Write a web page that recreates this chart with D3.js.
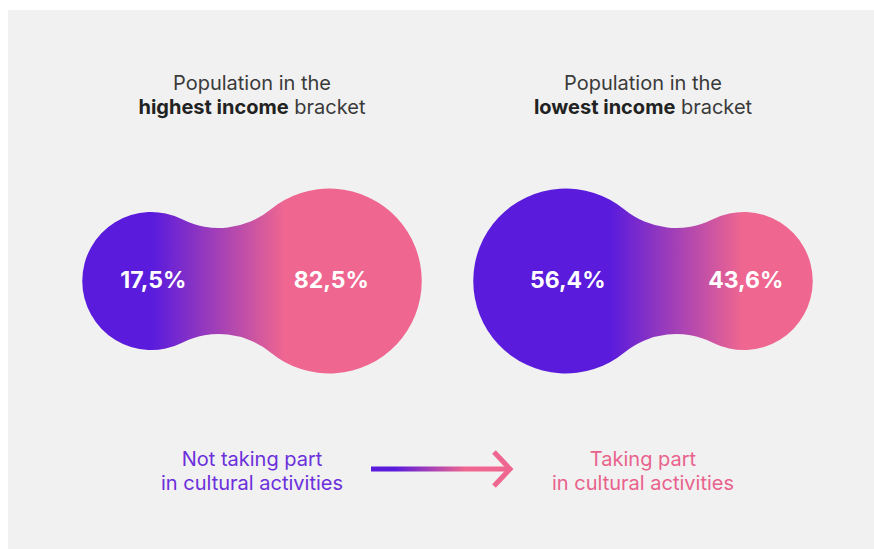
<!DOCTYPE html>
<html>
<head>
<meta charset="utf-8">
<script src="https://cdn.jsdelivr.net/npm/d3@7"></script>
<style>
  body { margin: 0; background: #fff; }
  svg { display: block; font-family: Inter, 'Open Sans', sans-serif; }
</style>
</head>
<body>
<svg width="874" height="549"></svg>
<script>
const svg = d3.select('svg');
const width = +svg.attr('width');
const height = +svg.attr('height');

// data
const brackets = ['highest income', 'lowest income'];
const notTaking = [17.5, 56.4];
const taking = [82.5, 43.6];
const legendLabels = ['Not taking part', 'Taking part'];

const purple = '#5a1bdc';
const pink = '#ef6690';

const data = brackets.map((b, i) => ({ bracket: b, a: notTaking[i], b: taking[i] }));

svg.append('rect')
  .attr('x', 8).attr('y', 10)
  .attr('width', width - 8).attr('height', height - 10)
  .attr('fill', '#f1f1f1');

const xScale = d3.scalePoint()
  .domain(brackets)
  .range([252, 643]);

// bigger share of the pair gets the bigger bubble
const rScale = d3.scaleThreshold()
  .domain([50])
  .range([69, 92.5]);

const cy = 281;
const gap = 178;   // distance between the two circle centres
const neck = 53;   // half height of the waist

const fmt = v => d3.format('.1f')(v).replace('.', ',') + '%';

// two circles joined by concave arcs
const blob = (mid, r1, r2) => {
  const w = r1 + gap + r2;
  const c1 = mid - w / 2 + r1;
  const c2 = c1 + gap;
  const dist = R => Math.sqrt(r1 * r1 - neck * neck + 2 * R * (r1 - neck))
    + Math.sqrt(r2 * r2 - neck * neck + 2 * R * (r2 - neck));
  let lo = 0, hi = 5000;
  for (let k = 0; k < 60; k++) {
    const m = (lo + hi) / 2;
    if (dist(m) < gap) lo = m; else hi = m;
  }
  const R = (lo + hi) / 2;
  const h = R + neck;
  const x = Math.sqrt(r1 * r1 - neck * neck + 2 * R * (r1 - neck));
  const k1 = r1 / (r1 + R), k2 = r2 / (r2 + R);
  const t1u = [c1 + k1 * x, cy - k1 * h], t1l = [c1 + k1 * x, cy + k1 * h];
  const t2u = [c2 + k2 * (x - gap), cy - k2 * h], t2l = [c2 + k2 * (x - gap), cy + k2 * h];
  const path = `M${t1u} A${r1},${r1} 0 1 0 ${t1l} A${R},${R} 0 0 1 ${t2l}`
    + ` A${r2},${r2} 0 1 0 ${t2u} A${R},${R} 0 0 1 ${t1u} Z`;
  return { path, c1, c2, neckX: c1 + x };
};

const defs = svg.append('defs');

data.forEach((d, i) => {
  const mid = xScale(d.bracket);
  const r1 = rScale(d.a), r2 = rScale(d.b);
  const shape = blob(mid, r1, r2);

  const grad = defs.append('linearGradient')
    .attr('id', `grad${i}`)
    .attr('gradientUnits', 'userSpaceOnUse')
    .attr('x1', shape.neckX - 66).attr('x2', shape.neckX + 66)
    .attr('y1', 0).attr('y2', 0);
  grad.append('stop').attr('offset', 0).attr('stop-color', purple);
  grad.append('stop').attr('offset', 1).attr('stop-color', pink);

  const g = svg.append('g');

  g.append('path')
    .attr('d', shape.path)
    .attr('fill', `url(#grad${i})`);

  g.selectAll('text.value')
    .data([[shape.c1, d.a], [shape.c2, d.b]])
    .join('text')
    .attr('class', 'value')
    .attr('x', p => p[0] + 2)
    .attr('y', cy - 1)
    .attr('dy', '0.35em')
    .attr('text-anchor', 'middle')
    .attr('fill', '#fff')
    .attr('font-size', 23)
    .attr('font-weight', 700)
    .text(p => fmt(p[1]));

  const title = g.append('text')
    .attr('text-anchor', 'middle')
    .attr('fill', '#3a3a3a')
    .attr('font-size', 20);
  title.append('tspan')
    .attr('x', mid).attr('y', 90)
    .text('Population in the');
  const l2 = title.append('tspan')
    .attr('x', mid).attr('y', 114);
  l2.append('tspan').attr('font-weight', 700).attr('fill', '#222').text(d.bracket);
  l2.append('tspan').text(' bracket');
});

// legend
const legendColors = ['#6c2fdc', '#e9628c'];
legendLabels.forEach((label, i) => {
  const t = svg.append('text')
    .attr('text-anchor', 'middle')
    .attr('fill', legendColors[i])
    .attr('font-size', 20);
  t.append('tspan').attr('x', xScale(brackets[i])).attr('y', 466).text(label);
  t.append('tspan').attr('x', xScale(brackets[i])).attr('y', 490).text('in cultural activities');
});

const arrowY = 469;
const arrowGrad = defs.append('linearGradient')
  .attr('id', 'arrowGrad')
  .attr('gradientUnits', 'userSpaceOnUse')
  .attr('x1', 395).attr('x2', 465).attr('y1', 0).attr('y2', 0);
arrowGrad.append('stop').attr('offset', 0).attr('stop-color', purple);
arrowGrad.append('stop').attr('offset', 1).attr('stop-color', pink);

svg.append('line')
  .attr('x1', 371).attr('x2', 509)
  .attr('y1', arrowY).attr('y2', arrowY)
  .attr('stroke', 'url(#arrowGrad)')
  .attr('stroke-width', 5);

svg.append('path')
  .attr('d', `M494,${arrowY - 17} L510,${arrowY} L494,${arrowY + 17}`)
  .attr('fill', 'none')
  .attr('stroke', pink)
  .attr('stroke-width', 5);
</script>
</body>
</html>
